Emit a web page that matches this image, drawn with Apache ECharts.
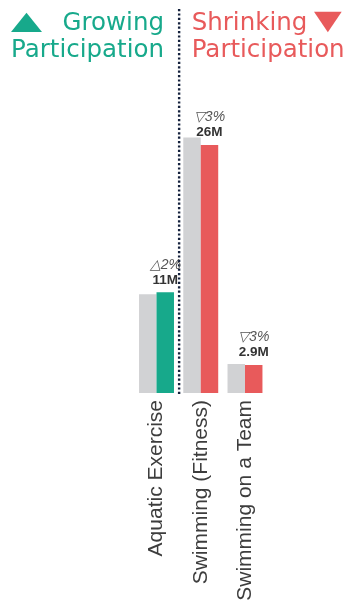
<!DOCTYPE html>
<html>
<head>
<meta charset="utf-8">
<script src="https://cdn.jsdelivr.net/npm/echarts@6/dist/echarts.min.js"></script>
<style>html,body{margin:0;padding:0;background:#fff;}#c{width:349px;height:609px;}</style>
</head>
<body>
<div id="c"></div>
<script>
const categories = ['Aquatic Exercise', 'Swimming (Fitness)', 'Swimming on a Team'];
const previousValues = [10.4, 26.9, 3.05];
const currentValues = [10.6, 26.1, 2.95];
const valueLabels = ['11M', '26M', '2.9M'];
const changeLabels = ['\u25B32%', '\u25BD3%', '\u25BD3%'];
const growing = [true, false, false];

const TEAL = '#17a98b';
const RED = '#e85a5b';
const GREY = '#d1d2d4';
const NAVY = '#14213d';

const chart = echarts.init(document.getElementById('c'), null, {renderer: 'canvas'});

const option = {
  animation: false,
  grid: {left: 134.4, right: 81.9, top: 108, bottom: 216, containLabel: false},
  xAxis: {
    type: 'category',
    data: categories,
    axisLine: {show: false},
    axisTick: {show: false},
    axisLabel: {
      rotate: 90,
      interval: 0,
      margin: 7,
      color: '#3d3d3d',
      fontSize: 21,
      fontFamily: 'Liberation Sans'
    }
  },
  yAxis: {type: 'value', min: 0, max: 30, show: false},
  series: [
    {
      type: 'bar',
      data: previousValues,
      itemStyle: {color: GREY},
      barGap: '0%',
      barCategoryGap: '21%'
    },
    {
      type: 'bar',
      data: currentValues.map((v, i) => ({value: v, itemStyle: {color: growing[i] ? TEAL : RED}})),
      barGap: '0%',
      barCategoryGap: '21%',
      label: {
        show: true,
        position: 'top',
        distance: 5,
        formatter: (p) => '{a|' + changeLabels[p.dataIndex] + '}\n{b|' + valueLabels[p.dataIndex] + '}',
        rich: {
          a: {fontSize: 14, fontStyle: 'italic', color: '#555', lineHeight: 15, fontFamily: 'Liberation Sans'},
          b: {fontSize: 13.5, fontWeight: 'bold', color: '#333', lineHeight: 15, fontFamily: 'Liberation Sans'}
        }
      }
    }
  ]
};
chart.setOption(option);

const x0 = chart.convertToPixel({xAxisIndex: 0}, categories[0]);
const x1 = chart.convertToPixel({xAxisIndex: 0}, categories[1]);
const divX = (x0 + x1) / 2 + 0.5;

function titleText(text, x, y, align, color) {
  return {type: 'text', style: {text: text, x: x, y: y, align: align, verticalAlign: 'middle',
    fontFamily: 'DejaVu Sans', fontSize: 24.5, fill: color}};
}

chart.setOption({
  graphic: [
    {type: 'line', shape: {x1: divX, y1: 9, x2: divX, y2: 396},
     style: {stroke: NAVY, lineWidth: 2.4, lineDash: [2.2, 2.2]}},
    {type: 'polygon', shape: {points: [[11, 32], [26.5, 12.7], [42, 32]]}, style: {fill: TEAL}},
    {type: 'polygon', shape: {points: [[314, 11.7], [341.7, 11.7], [327.85, 32.3]]}, style: {fill: RED}},
    titleText('Growing', 164, 23.8, 'right', TEAL),
    titleText('Participation', 164, 50.5, 'right', TEAL),
    titleText('Shrinking', 191.7, 23.8, 'left', RED),
    titleText('Participation', 191.7, 50.5, 'left', RED)
  ]
});
</script>
</body>
</html>
